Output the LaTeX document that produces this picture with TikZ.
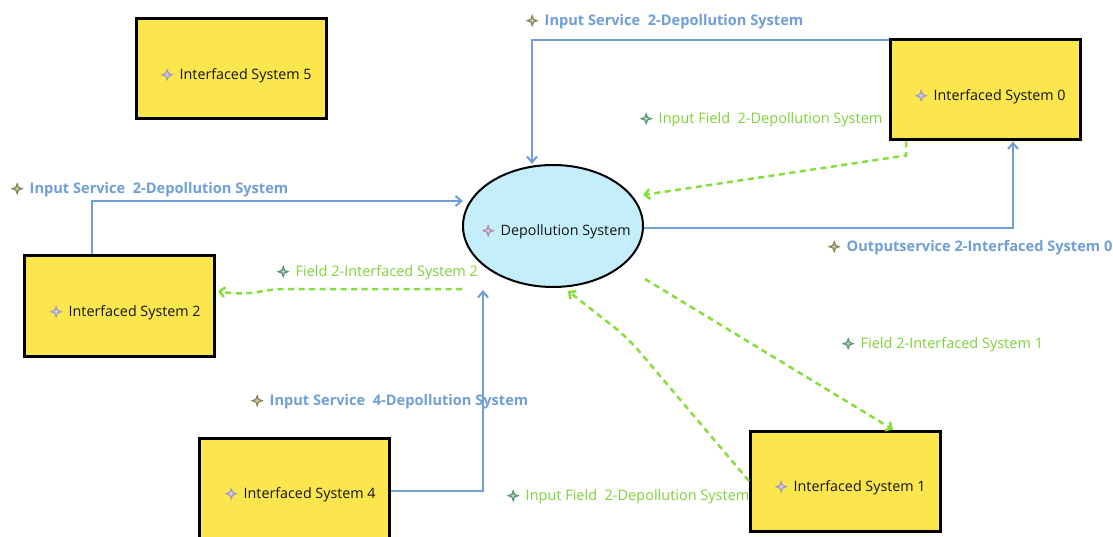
\documentclass[tikz,border=0pt]{standalone}
\usepackage{fontspec}
\setmainfont{Open Sans}
\usetikzlibrary{arrows.meta,shapes.geometric}
\definecolor{sysyellow}{HTML}{FBE64E}
\definecolor{depcyan}{HTML}{C4EEFC}
\definecolor{svcblue}{HTML}{6F9FD6}
\definecolor{fldgreen}{HTML}{86DE3C}
\definecolor{fldtext}{HTML}{7FD33A}
\definecolor{icoolive}{HTML}{84834E}
\definecolor{icogreen}{HTML}{5A9470}
\definecolor{icolav}{HTML}{A296CA}
\definecolor{icomauve}{HTML}{B086B2}
\definecolor{systxt}{HTML}{141414}
\newcommand\sparkle[1]{\tikz[baseline=-4.6pt]{\fill[#1] (0pt,6.5pt)--(1.8pt,1.8pt)--(6.5pt,0pt)--(1.8pt,-1.8pt)--(0pt,-6.5pt)--(-1.8pt,-1.8pt)--(-6.5pt,0pt)--(-1.8pt,1.8pt)--cycle;
\fill[#1!45!white] (0pt,2.8pt)--(0.8pt,0.8pt)--(2.8pt,0pt)--(0.8pt,-0.8pt)--(0pt,-2.8pt)--(-0.8pt,-0.8pt)--(-2.8pt,0pt)--(-0.8pt,0.8pt)--cycle;}\hspace{6pt}}
\tikzset{
  sysbox/.style={draw=black, line width=3pt, fill=sysyellow, minimum width=190pt, minimum height=100pt, inner sep=0pt},
  depshape/.style={ellipse, draw=black, line width=2pt, fill=depcyan, minimum width=180pt, minimum height=122pt, inner sep=0pt},
  systext/.style={anchor=west, inner sep=0pt, font=\fontsize{14.3}{17}\selectfont, text=systxt},
  svclabel/.style={anchor=west, inner sep=0pt, font=\fontsize{14.6}{17}\selectfont\bfseries, text=svcblue},
  fldlabel/.style={anchor=west, inner sep=0pt, font=\fontsize{14.5}{17}\selectfont, text=fldtext},
  svcline/.style={draw=svcblue, line width=2pt, -{Straight Barb[length=6pt,width=10pt]}},
  fldline/.style={draw=fldgreen, line width=2.5pt, dash pattern=on 6pt off 4.5pt, -{Straight Barb[length=5pt,width=10pt]}},
}
\begin{document}
\begin{tikzpicture}[x=1pt,y=-1pt]
\useasboundingbox (0,0) rectangle (1113,537);
\fill[white] (0,0) rectangle (1113,537);
% systems
\node[sysbox] (is5) at (231.5,68.5) {};
\node[sysbox] (is0) at (985.5,90) {};
\node[sysbox] (is2) at (119.5,306) {};
\node[sysbox] (is4) at (294.5,488.5) {};
\node[sysbox] (is1) at (845.5,481) {};
\node[depshape] (dep) at (553,226) {};
\node[systext] (is5t) at (160.5,75.5) {\sparkle{icolav}Interfaced System 5};
\node[systext] (is0t) at (914.5,96.5) {\sparkle{icolav}Interfaced System 0};
\node[systext] (is2t) at (49.5,312.5) {\sparkle{icolav}Interfaced System 2};
\node[systext] (is4t) at (224.5,494.5) {\sparkle{icolav}Interfaced System 4};
\node[systext] (is1t) at (774.5,487.5) {\sparkle{icolav}Interfaced System 1};
\node[systext] (dept) at (481.5,231.5) {\sparkle{icomauve}Depollution System};
% service connectors
\draw[svcline] ([yshift=-2pt]is0.north west) -| ([xshift=-21pt]dep.north);
\draw[svcline] ([xshift=-27.5pt]is2.north) |- ([xshift=1pt,yshift=25pt]dep.west);
\draw[svcline] ([yshift=-2.5pt]is4.east) -| ([xshift=-70pt,yshift=-2pt]dep.south);
\draw[svcline] ([yshift=-2pt]dep.east) -| ([xshift=27.5pt]is0.south);
% field connectors
\draw[fldline] ([xshift=-79.5pt]is0.south) -- ++(0,14) -- ([xshift=90pt,yshift=31pt]dep.center);
\draw[fldline] ([xshift=-91pt,yshift=-63pt]dep.center) -- (285,289) .. controls (262,289) and (250,297) .. ([xshift=2pt,yshift=15pt]is2.east);
\draw[fldline] ([xshift=92pt,yshift=-53pt]dep.center) -- ([xshift=47.5pt]is1.north);
\draw[fldline, rounded corners=18pt] (is1.west) -- (628,338) -- ([xshift=15pt,yshift=-3pt]dep.south);
% labels
\node[svclabel] (l1) at (525.5,21.5) {\sparkle{icoolive}Input Service\ \ 2-Depollution System};
\node[fldlabel] (l2) at (639.5,119.5) {\sparkle{icogreen}Input Field\ \ 2-Depollution System};
\node[svclabel] (l3) at (10.5,189.5) {\sparkle{icoolive}Input Service\ \ 2-Depollution System};
\node[fldlabel] (l4) at (276.5,272.5) {\sparkle{icogreen}Field 2-Interfaced System 2};
\node[svclabel] (l5) at (827.5,247.5) {\sparkle{icoolive}Outputservice 2-Interfaced System 0};
\node[fldlabel] (l6) at (841.5,344.5) {\sparkle{icogreen}Field 2-Interfaced System 1};
\node[svclabel] (l7) at (250.5,401.5) {\sparkle{icoolive}Input Service\ \ 4-Depollution System};
\node[fldlabel] (l8) at (506.5,496.5) {\sparkle{icogreen}Input Field\ \ 2-Depollution System};
\end{tikzpicture}
\end{document}
